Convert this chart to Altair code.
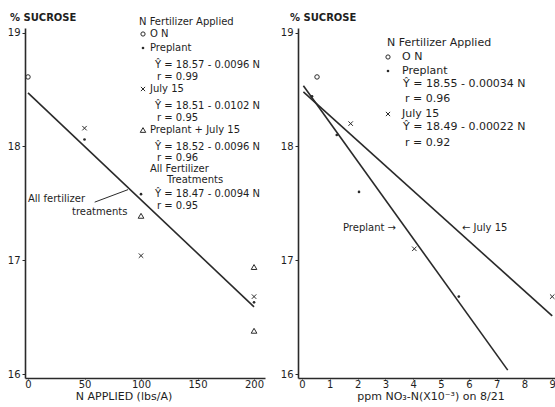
import altair as alt
import pandas as pd

# ---------------- data ----------------
# Left panel: % sucrose vs N applied (lbs/A)
l_zero_n = [0]
l_zero_s = [18.61]
l_pre_n = [50, 100, 200]
l_pre_s = [18.06, 17.58, 16.63]
l_july_n = [50, 100, 200]
l_july_s = [18.16, 17.04, 16.68]
l_both_n = [100, 200, 200]
l_both_s = [17.39, 16.94, 16.38]
# regression for all fertilizer treatments: Y = 18.47 - 0.0094 N
l_fit_a, l_fit_b = 18.47, -0.0094
l_fit_x = [0, 200]

# Right panel: % sucrose vs ppm NO3-N (x10^-3) on 8/21
r_zero_x = [0.54]
r_zero_s = [18.61]
r_pre_x = [0.36, 1.25, 2.05, 5.64]
r_pre_s = [18.44, 18.10, 17.60, 16.68]
r_july_x = [1.75, 4.04, 9.0]
r_july_s = [18.20, 17.10, 16.68]
# Preplant: Y = 18.55 - 0.00034 N ; July 15: Y = 18.49 - 0.00022 N (x in 10^3 ppm)
r_pre_a, r_pre_b = 18.55, -0.34
r_pre_fx = [0.05, 7.4]
r_july_a, r_july_b = 18.49, -0.22
r_july_fx = [0.05, 9.0]

left_x_ticks = [0, 50, 100, 150, 200]
right_x_ticks = [0, 1, 2, 3, 4, 5, 6, 7, 8, 9]
y_ticks = [16, 16.5, 17, 17.5, 18, 18.5, 19]

left_legend = [
    "N Fertilizer Applied", "O N", "Preplant", "Ŷ = 18.57 - 0.0096 N", "r = 0.99",
    "July 15", "Ŷ = 18.51 - 0.0102 N", "r = 0.95", "Preplant + July 15",
    "Ŷ = 18.52 - 0.0096 N", "r = 0.96", "All Fertilizer", "Treatments",
    "Ŷ = 18.47 - 0.0094 N", "r = 0.95",
]
right_legend = [
    "N Fertilizer Applied", "O N", "Preplant", "Ŷ = 18.55 - 0.00034 N", "r = 0.96",
    "July 15", "Ŷ = 18.49 - 0.00022 N", "r = 0.92",
]
# leader line for "All fertilizer treatments" (data coords)
l_leader_n = [59, 88.5]
l_leader_s = [17.51, 17.62]

# ---------------- styling ----------------
FONT = "DejaVu Sans"
INK = "#1e1e1e"
LINE = "#2a2a2a"
FS = 11
FS_L = 10
XPATH = "M-1,-1L1,1M-1,1L1,-1"

one = pd.DataFrame({"a": [0]})

W = 530          # whole plotting width (both panels), origin at x=25
H = 350
L_RANGE = [0, 240]
R_OFF = 273
R_RANGE = [R_OFF, 530]
YDOM = [15.965, 19.04]


def txt(label, x, y, size=FS, align="left", weight="normal"):
    return alt.Chart(one).mark_text(
        text=label, font=FONT, fontSize=size, color=INK, align=align,
        baseline="middle", fontWeight=weight,
    ).encode(x=alt.value(x), y=alt.value(y))


def sym(shape, x, y, size, filled):
    return alt.Chart(one).mark_point(
        shape=shape, size=size, filled=filled, color=LINE, strokeWidth=1, opacity=1
    ).encode(x=alt.value(x), y=alt.value(y))


def axis_y(offset):
    return alt.Axis(
        values=y_ticks, labelExpr="datum.value % 1 == 0 ? datum.label : ''",
        title=None, grid=False, tickSize=3, labelPadding=2, labelFont=FONT,
        labelFontSize=10, labelColor=INK, domainColor=LINE, domainWidth=1.6,
        tickColor=LINE, format="d", orient="left", offset=offset,
    )


def axis_x(vals):
    return alt.Axis(
        values=vals, title=None, grid=False, tickSize=1, labelPadding=0,
        labelFont=FONT, labelFontSize=10, labelColor=INK, domainColor=LINE,
        domainWidth=1.6, tickColor=LINE, format="d", labelFlush=False,
        orient="bottom",
    )


def panel(xdom, xrange, xticks, yoffset, series, fits, extra):
    xs = alt.Scale(domain=xdom, range=xrange, nice=False, zero=False)
    ys = alt.Scale(domain=YDOM, nice=False, zero=False)
    layers = []
    base = alt.Chart(one).mark_point(opacity=0).encode(
        x=alt.X("xx:Q", scale=xs, axis=axis_x(xticks)),
        y=alt.Y("yy:Q", scale=ys, axis=axis_y(yoffset)),
    ).transform_calculate(xx=str(xdom[0]), yy=str(YDOM[0]))
    layers.append(base)
    for xv, sv in fits:
        df = pd.DataFrame({"x": xv, "s": sv})
        layers.append(alt.Chart(df).mark_line(color=LINE, strokeWidth=1.6).encode(
            x=alt.X("x:Q", scale=xs), y=alt.Y("s:Q", scale=ys)))
    for xv, sv, shape, size, filled in series:
        df = pd.DataFrame({"x": xv, "s": sv})
        layers.append(alt.Chart(df).mark_point(
            shape=shape, size=size, filled=filled, color=LINE, strokeWidth=1, opacity=1
        ).encode(x=alt.X("x:Q", scale=xs), y=alt.Y("s:Q", scale=ys)))
    layers.extend(extra(xs, ys))
    return alt.layer(*layers)


def left_extra(xs, ys):
    L = left_legend
    f = FS_L
    out = [
        txt("% SUCROSE", -15, -10, size=10, weight="bold"),
        txt(L[0], 114, -6, size=f),
        sym("circle", 118, 6, 18, False), txt(L[1], 125, 6, size=f),
        sym("circle", 118, 20, 7, True), txt(L[2], 125, 20, size=f),
        txt(L[3], 130, 37, size=f), txt(L[4], 132, 49, size=f),
        sym(XPATH, 118, 61, 18, False), txt(L[5], 125, 61, size=f),
        txt(L[6], 130, 78, size=f), txt(L[7], 132, 90, size=f),
        sym("triangle-up", 118, 102, 30, False), txt(L[8], 125, 102, size=f),
        txt(L[9], 130, 119, size=f), txt(L[10], 132, 130, size=f),
        txt(L[11], 125, 141, size=f), txt(L[12], 142, 152, size=f),
        txt(L[13], 130, 166, size=f), txt(L[14], 132, 178, size=f),
        txt("All fertilizer", 3, 171, size=10), txt("treatments", 47, 184, size=10),
        txt("N APPLIED (lbs/A)", 99, 369, size=11, align="center"),
    ]
    lead = pd.DataFrame({"x": l_leader_n, "s": l_leader_s})
    out.append(alt.Chart(lead).mark_line(color=LINE, strokeWidth=1).encode(
        x=alt.X("x:Q", scale=xs), y=alt.Y("s:Q", scale=ys)))
    return out


def right_extra(xs, ys):
    R = right_legend
    o = R_OFF
    return [
        txt("% SUCROSE", o - 8, -10, size=10, weight="bold"),
        txt(R[0], o + 89, 15),
        sym("circle", o + 90, 29, 18, False), txt(R[1], o + 104, 29),
        sym("circle", o + 90, 43, 7, True), txt(R[2], o + 104, 43),
        txt(R[3], o + 105, 56), txt(R[4], o + 107, 71),
        sym(XPATH, o + 90, 86, 18, False), txt(R[5], o + 104, 86),
        txt(R[6], o + 105, 99), txt(R[7], o + 107, 115),
        txt("Preplant →", o + 45, 200, size=10), txt("← July 15", o + 164, 200, size=10),
        txt("ppm NO₃-N(X10⁻³) on 8/21", o + 133, 369, size=11, align="center"),
    ]


left = panel(
    [-2.65, 209.7], L_RANGE, left_x_ticks, 0,
    [
        (l_zero_n, l_zero_s, "circle", 20, False),
        (l_pre_n, l_pre_s, "circle", 7, True),
        (l_july_n, l_july_s, XPATH, 20, False),
        (l_both_n, l_both_s, "triangle-up", 32, False),
    ],
    [(l_fit_x, [l_fit_a + l_fit_b * v for v in l_fit_x])],
    left_extra,
)

right = panel(
    [-0.144, 9.1], R_RANGE, right_x_ticks, -R_OFF,
    [
        (r_zero_x, r_zero_s, "circle", 20, False),
        (r_pre_x, r_pre_s, "circle", 7, True),
        (r_july_x, r_july_s, XPATH, 20, False),
    ],
    [
        (r_pre_fx, [r_pre_a + r_pre_b * v for v in r_pre_fx]),
        (r_july_fx, [r_july_a + r_july_b * v for v in r_july_fx]),
    ],
    right_extra,
)

chart = alt.layer(left, right).resolve_scale(
    x="independent", y="independent"
).resolve_axis(x="independent", y="independent").properties(
    width=W, height=H,
    autosize=alt.AutoSizeParams(type="none"),
    padding={"left": 25, "top": 28, "right": 0, "bottom": 29},
    background="white",
).configure_view(stroke=None)

chart.save("out.html", embed_options={"renderer": "svg", "actions": False})
